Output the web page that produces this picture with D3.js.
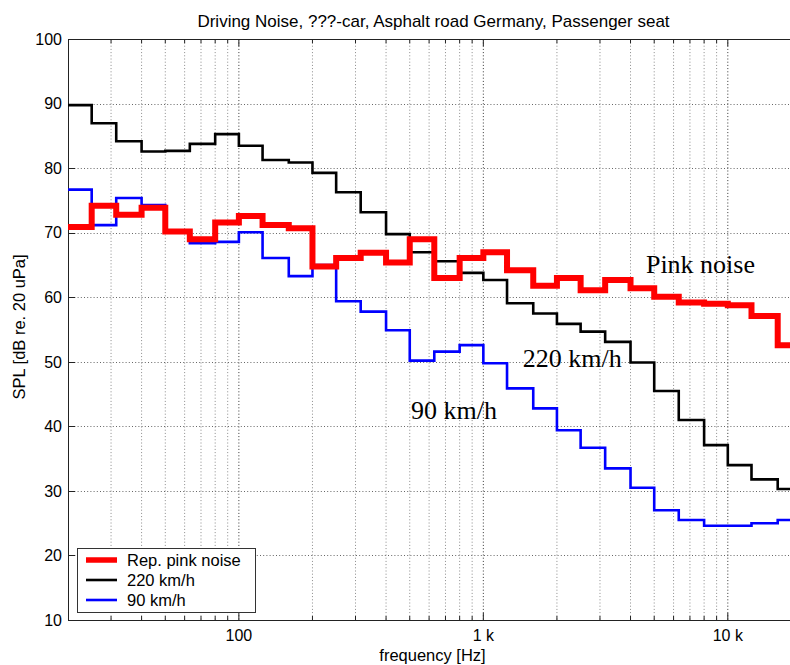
<!DOCTYPE html>
<html>
<head>
<meta charset="utf-8">
<script src="https://cdn.jsdelivr.net/npm/d3@7"></script>
<style>
  html, body { margin: 0; padding: 0; background: #fff; }
  svg { display: block; }
  text { font-family: "Liberation Sans", Arial, Helvetica, sans-serif; fill: #000; }
  .serif { font-family: "Liberation Serif", "Times New Roman", serif; }
</style>
</head>
<body>
<svg id="chart" width="790" height="665"></svg>
<script>
// Third-octave band centre frequencies [Hz]
const bands = [20, 25, 31.5, 40, 50, 63, 80, 100, 125, 160, 200, 250, 315, 400, 500,
  630, 800, 1000, 1250, 1600, 2000, 2500, 3150, 4000, 5000, 6300, 8000, 10000, 12500, 16000];
const bandEnd = 20000;

// Band levels, dB SPL
const pinkNoise = [70.9, 74.2, 72.8, 73.9, 70.2, 69.0, 71.6, 72.6, 71.2, 70.7, 64.8, 66.1, 66.9, 65.4, 69.0,
  63.0, 66.1, 67.0, 64.2, 61.8, 63.0, 61.1, 62.7, 61.4, 60.1, 59.2, 59.0, 58.8, 57.1, 52.6];
const speed220 = [89.8, 87.0, 84.2, 82.6, 82.7, 83.8, 85.3, 83.5, 81.3, 80.9, 79.3, 76.3, 73.2, 69.8, 67.0,
  65.6, 63.8, 62.7, 59.1, 57.5, 55.9, 54.7, 53.1, 49.9, 45.5, 41.0, 37.1, 34.0, 31.8, 30.3];
const speed90 = [76.7, 71.2, 75.4, 74.3, 70.4, 68.4, 68.6, 70.1, 66.1, 63.3, 65.0, 59.4, 57.8, 54.9, 50.2,
  51.6, 52.6, 49.8, 45.9, 42.8, 39.4, 36.7, 33.5, 30.5, 27.0, 25.5, 24.6, 24.6, 25.0, 25.5];

const yTicks = [10, 20, 30, 40, 50, 60, 70, 80, 90, 100];
const xMajor = [100, 1000, 10000];
const xMajorLabels = ["100", "1 k", "10 k"];

const title = "Driving Noise, ???-car, Asphalt road Germany, Passenger seat";
const xLabel = "frequency [Hz]";
const yLabel = "SPL [dB re. 20 uPa]";

const series = [
  { name: "90 km/h", values: speed90, color: "#0000ff", width: 2.6 },
  { name: "220 km/h", values: speed220, color: "#000000", width: 2.6 },
  { name: "Rep. pink noise", values: pinkNoise, color: "#ff0000", width: 6 }
];
const legendOrder = ["Rep. pink noise", "220 km/h", "90 km/h"];
// text labels placed in data coordinates (frequency, level at baseline)
const annotations = [
  { text: "Pink noise", f: 4625, v: 63.8 },
  { text: "220 km/h", f: 1449, v: 49.25 },
  { text: "90 km/h", f: 506, v: 41.1 }
];

const svg = d3.select("#chart");
const plotLeft = 68, plotTop = 39.3, plotBottom = 620, plotRight = 801.4;

const x = d3.scaleLog().domain([20, 20000]).range([plotLeft, plotRight]);
const y = d3.scaleLinear().domain([10, 100]).range([plotBottom, plotTop]);

// minor log ticks: every integer multiple inside each decade
const xMinor = [];
[10, 100, 1000, 10000].forEach(d => {
  for (let k = 2; k <= 9; k++) {
    const f = d * k;
    if (f > 20 && f < 20000) xMinor.push(f);
  }
});

const grid = svg.append("g");
// vertical grid
grid.selectAll("line.vminor").data(xMinor).join("line")
  .attr("x1", d => x(d)).attr("x2", d => x(d))
  .attr("y1", plotTop).attr("y2", plotBottom)
  .attr("stroke", "#8a8a8a").attr("stroke-width", 1).attr("stroke-dasharray", "1,2.2");
grid.selectAll("line.vmajor").data(xMajor).join("line")
  .attr("x1", d => x(d)).attr("x2", d => x(d))
  .attr("y1", plotTop).attr("y2", plotBottom)
  .attr("stroke", "#333").attr("stroke-width", 1).attr("stroke-dasharray", "1,2.2");
// horizontal grid
grid.selectAll("line.h").data(yTicks.filter(v => v > 10 && v < 100)).join("line")
  .attr("x1", plotLeft).attr("x2", plotRight)
  .attr("y1", d => Math.round(y(d)) + 0.5).attr("y2", d => Math.round(y(d)) + 0.5)
  .attr("stroke", "#666").attr("stroke-width", 1).attr("stroke-dasharray", "1,2.2");

// axes box and ticks
const axes = svg.append("g").attr("stroke", "#222").attr("stroke-width", 1);
axes.append("line").attr("x1", plotLeft + 0.5).attr("x2", plotLeft + 0.5).attr("y1", plotTop).attr("y2", plotBottom + 0.5);
axes.append("line").attr("x1", plotLeft).attr("x2", plotRight).attr("y1", Math.round(plotTop) + 0.5).attr("y2", Math.round(plotTop) + 0.5);
axes.append("line").attr("x1", plotLeft).attr("x2", plotRight).attr("y1", plotBottom + 0.5).attr("y2", plotBottom + 0.5);
axes.selectAll("line.yt").data(yTicks).join("line")
  .attr("x1", plotLeft).attr("x2", plotLeft + 7)
  .attr("y1", d => Math.round(y(d)) + 0.5).attr("y2", d => Math.round(y(d)) + 0.5);
axes.selectAll("line.xtm").data(xMajor).join("line")
  .attr("x1", d => x(d)).attr("x2", d => x(d)).attr("y1", plotBottom).attr("y2", plotBottom - 7);
axes.selectAll("line.xtn").data(xMinor).join("line")
  .attr("x1", d => x(d)).attr("x2", d => x(d)).attr("y1", plotBottom).attr("y2", plotBottom - 4);
axes.selectAll("line.xtmt").data(xMajor).join("line")
  .attr("x1", d => x(d)).attr("x2", d => x(d)).attr("y1", plotTop).attr("y2", plotTop + 7);
axes.selectAll("line.xtnt").data(xMinor).join("line")
  .attr("x1", d => x(d)).attr("x2", d => x(d)).attr("y1", plotTop).attr("y2", plotTop + 4);

// tick labels
svg.append("g").selectAll("text").data(yTicks).join("text")
  .attr("x", 62).attr("y", d => y(d)).attr("dy", "0.35em")
  .attr("text-anchor", "end").attr("font-size", 16).text(d => d);
svg.append("g").selectAll("text").data(xMajor).join("text")
  .attr("x", d => x(d)).attr("y", 641)
  .attr("text-anchor", "middle").attr("font-size", 16)
  .text((d, i) => xMajorLabels[i]);

// titles
svg.append("text").attr("x", 433.5).attr("y", 26.5).attr("text-anchor", "middle")
  .attr("font-size", 17).text(title);
svg.append("text").attr("x", 432.5).attr("y", 661).attr("text-anchor", "middle")
  .attr("font-size", 16.5).text(xLabel);
svg.append("text").attr("transform", "translate(25,327) rotate(-90)")
  .attr("text-anchor", "middle").attr("font-size", 16.5).text(yLabel);

// stair lines
const line = d3.line().curve(d3.curveStepAfter)
  .x(d => x(d[0])).y(d => y(d[1]));
const plot = svg.append("g");
series.forEach(s => {
  const pts = bands.map((f, i) => [f, s.values[i]]);
  pts.push([bandEnd, s.values[s.values.length - 1]]);
  plot.append("path").attr("d", line(pts))
    .attr("fill", "none").attr("stroke", s.color).attr("stroke-width", s.width)
    .attr("stroke-linejoin", "miter").attr("stroke-linecap", "butt");
});

// in-plot annotations
svg.append("g").selectAll("text").data(annotations).join("text")
  .attr("class", "serif")
  .attr("x", d => x(d.f)).attr("y", d => y(d.v))
  .attr("font-size", 26).text(d => d.text);

// legend
const lg = svg.append("g").attr("transform", "translate(77,548)");
lg.append("rect").attr("x", 0.5).attr("y", 0.5).attr("width", 178).attr("height", 64)
  .attr("fill", "#fff").attr("stroke", "#333").attr("stroke-width", 1);
legendOrder.forEach((name, i) => {
  const s = series.find(t => t.name === name);
  const yy = 12 + i * 20;
  lg.append("line").attr("x1", 9).attr("x2", 40).attr("y1", yy).attr("y2", yy)
    .attr("stroke", s.color).attr("stroke-width", s.width === 6 ? 5.5 : 2.6);
  lg.append("text").attr("x", 50).attr("y", yy).attr("dy", "0.36em")
    .attr("font-size", 16.5).text(name);
});
</script>
</body>
</html>
